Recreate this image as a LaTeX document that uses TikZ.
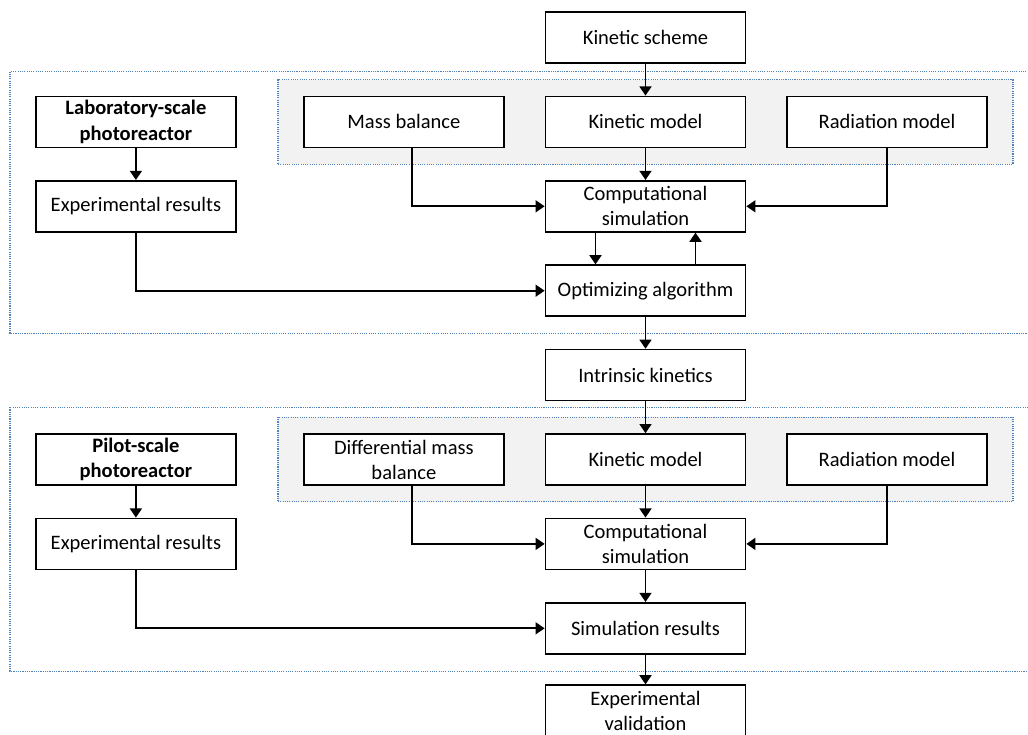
\documentclass[tikz,border=0pt]{standalone}
\usepackage{fontspec}
\setmainfont{Carlito}
\usetikzlibrary{positioning}
\usetikzlibrary{arrows.meta}
\usetikzlibrary{fit}
\usetikzlibrary{backgrounds}
\usetikzlibrary{calc}
\definecolor{groupblue}{RGB}{79,129,189}
\definecolor{groupgray}{RGB}{242,242,242}
\newcommand{\boxfont}{\fontsize{14.6}{17.8}\selectfont}
\tikzset{
    node distance=2.11cm,
    block/.style={
        draw,
        fill=white,
        line width=1.2pt,
        minimum width=5cm,
        minimum height=1.275cm,
        inner xsep=3pt,
        inner ysep=1pt,
        align=center,
        font=\boxfont
    },
    boldblock/.style={
        block,
        font=\boxfont\bfseries
    },
    groupline/.style={
        draw=groupblue,
        line width=0.8pt,
        dash pattern=on 0.8pt off 0.8pt
    },
    panel/.style={
        groupline,
        fill=groupgray,
        inner xsep=0.625cm,
        inner ysep=0.4cm
    },
    link/.style={
        draw,
        line width=1.3pt,
        -{Triangle[width=8.5pt,length=6.5pt]}
    },
    every edge/.append style={
        link
    }
}

\begin{document}
\begin{tikzpicture}
    \useasboundingbox (-16.1375,0.9375) rectangle (9.5625,-17.4125);

    \node[block] (ks) {Kinetic scheme};
    \node[block, below of = ks] (km) {Kinetic model};
    \node[block, node distance=6.04cm, left of = km] (mb) {Mass balance};
    \node[block, node distance=6.04cm, right of = km] (rm) {Radiation model};
    \node[boldblock, node distance=6.7cm, left of = mb] (lab) {Laboratory-scale\\photoreactor};
    \node[block, below of = lab] (er) {Experimental results};
    \node[block, below of = km] (cs) {Computational\\simulation};
    \node[block, below of = cs] (opt) {Optimizing algorithm};

    \node[block, below of = opt] (ik) {Intrinsic kinetics};
    \node[block, below of = ik] (km2) {Kinetic model};
    \node[block, node distance=6.04cm, left of = km2] (dmb) {Differential mass\\balance};
    \node[block, node distance=6.04cm, right of = km2] (rm2) {Radiation model};
    \node[boldblock, node distance=6.7cm, left of = dmb] (pil) {Pilot-scale\\photoreactor};
    \node[block, below of = pil] (er2) {Experimental results};
    \node[block, below of = km2] (cs2) {Computational\\simulation};
    \node[block, below of = cs2] (sr) {Simulation results};
    \node[block, below of = sr, yshift=0.05cm] (ev) {Experimental\\validation};

    \begin{scope}[on background layer]
        \node[panel, fit=(mb)(rm)] (grp1) {};
        \node[panel, fit=(dmb)(rm2)] (grp2) {};
        \draw[groupline] ($(lab.north west)+(-0.625,0.6)$) rectangle ($(opt.south -| rm.east)+(2,-0.42)$);
        \draw[groupline] ($(pil.north west)+(-0.625,0.65)$) rectangle ($(sr.south -| rm2.east)+(2,-0.42)$);
    \end{scope}

    \draw (ks) edge (km)
          (km) edge (cs)
          (lab) edge (er)
          (opt) edge (ik);
    \draw[link] ([xshift=0.2cm]mb.south) |- (cs.west);
    \draw[link] (rm.south) |- (cs.east);
    \draw[link] (er.south) |- (opt.west);
    \draw[link] ([xshift=-1.25cm]cs.south) -- ([xshift=-1.25cm]opt.north);
    \draw[link] ([xshift=1.25cm]opt.north) -- ([xshift=1.25cm]cs.south);

    \draw (ik) edge (km2)
          (km2) edge (cs2)
          (pil) edge (er2)
          (cs2) edge (sr)
          (sr) edge (ev);
    \draw[link] ([xshift=0.2cm]dmb.south) |- (cs2.west);
    \draw[link] (rm2.south) |- (cs2.east);
    \draw[link] (er2.south) |- (sr.west);
\end{tikzpicture}
\end{document}
